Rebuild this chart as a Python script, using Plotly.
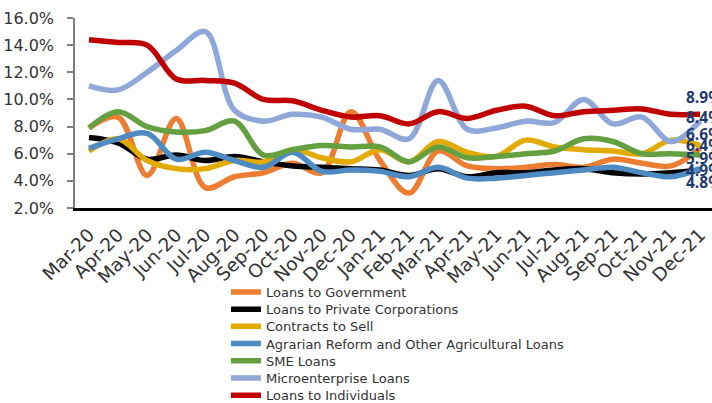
import plotly.graph_objects as go

months = ["Mar-20", "Apr-20", "May-20", "Jun-20", "Jul-20", "Aug-20", "Sep-20", "Oct-20",
          "Nov-20", "Dec-20", "Jan-21", "Feb-21", "Mar-21", "Apr-21", "May-21", "Jun-21",
          "Jul-21", "Aug-21", "Sep-21", "Oct-21", "Nov-21", "Dec-21"]

loans_government = [7.9, 8.7, 4.4, 8.6, 3.5, 4.3, 4.6, 5.3, 4.6, 9.1, 5.5, 3.1,
                    6.2, 5.1, 4.9, 5.0, 5.2, 5.0, 5.6, 5.3, 5.1, 6.4]
loans_private = [7.2, 6.8, 5.6, 5.9, 5.5, 5.8, 5.4, 5.1, 5.0, 4.9, 4.8, 4.4,
                 4.9, 4.3, 4.6, 4.6, 4.8, 4.9, 4.6, 4.5, 4.6, 4.8]
contracts_to_sell = [6.2, 7.1, 5.5, 4.9, 4.9, 5.5, 5.4, 6.3, 5.7, 5.4, 6.3, 5.4,
                     6.9, 6.1, 5.8, 7.0, 6.5, 6.3, 6.2, 6.0, 7.0, 6.6]
agrarian = [6.4, 7.1, 7.5, 5.6, 6.1, 5.5, 5.0, 6.1, 4.7, 4.8, 4.7, 4.3,
            5.0, 4.2, 4.2, 4.4, 4.6, 4.8, 5.0, 4.6, 4.3, 4.9]
sme = [7.9, 9.1, 8.0, 7.6, 7.7, 8.4, 5.9, 6.3, 6.6, 6.5, 6.5, 5.4,
       6.5, 5.7, 5.8, 6.0, 6.2, 7.1, 6.9, 6.0, 6.0, 5.9]
microenterprise = [11.0, 10.7, 12.0, 13.6, 15.0, 9.2, 8.4, 8.9, 8.7, 7.8, 7.8, 7.1,
                   11.4, 7.8, 7.9, 8.4, 8.3, 10.0, 8.2, 8.7, 6.9, 8.4]
individuals = [14.4, 14.2, 14.0, 11.5, 11.4, 11.2, 10.0, 9.9, 9.2, 8.7, 8.8, 8.2,
               9.1, 8.6, 9.2, 9.5, 8.8, 9.1, 9.2, 9.3, 8.9, 8.9]

series_names = ["Loans to Government", "Loans to Private Corporations", "Contracts to Sell",
                "Agrarian Reform and Other Agricultural Loans", "SME Loans",
                "Microenterprise Loans", "Loans to Individuals"]
series_values = [loans_government, loans_private, contracts_to_sell, agrarian, sme,
                 microenterprise, individuals]
series_colors = ["#ED7D31", "#000000", "#E3AA00", "#4F8BC3", "#64A040", "#8FA7D9", "#C00000"]
# vertical nudge (px) of each end label so the stacked labels stay readable
label_shift = [3, -12, 12, -1, -3, 4, 17]

FONT = "DejaVu Sans"
LABEL_FONT = "Open Sans"

# plot area geometry (px) used to place the legend rows below the axis
PLOT_TOP, PLOT_BOTTOM = 18, 208
LEGEND_FIRST_ROW, LEGEND_ROW_STEP = 292, 17.2

fig = go.Figure()
layout_legends = {}
for i, (name, vals, col) in enumerate(zip(series_names, series_values, series_colors)):
    key = "legend" if i == 0 else f"legend{i + 1}"
    fig.add_trace(go.Scatter(
        x=months, y=vals, name=name, mode="lines", legend=key,
        line=dict(color=col, width=5.5, shape="spline", smoothing=1.0),
    ))
    row_px = LEGEND_FIRST_ROW + LEGEND_ROW_STEP * i
    layout_legends[key] = dict(
        x=0.237, y=(PLOT_BOTTOM - row_px) / (PLOT_BOTTOM - PLOT_TOP),
        xanchor="left", yanchor="middle",
        font=dict(family=FONT, size=13, color="#333333"),
        bgcolor="rgba(0,0,0,0)", borderwidth=0,
    )

for vals, shift in zip(series_values, label_shift):
    fig.add_annotation(
        x=months[-1], y=vals[-1], text=f"{vals[-1]:.1f}%", showarrow=False,
        xanchor="left", yanchor="middle", xshift=-16, yshift=shift,
        font=dict(family=LABEL_FONT, size=15.5, color="#1F3A6E", weight="bold"),
    )

fig.update_layout(
    width=712, height=403,
    margin=dict(l=75, r=0, t=PLOT_TOP, b=403 - PLOT_BOTTOM, autoexpand=False),
    paper_bgcolor="white", plot_bgcolor="white",
    font=dict(family=FONT, color="#333333"),
    showlegend=True,
    **layout_legends,
)

fig.update_xaxes(
    type="category", range=[-0.48, 21.41],
    showgrid=False, zeroline=False,
    showline=True, linecolor="#000000", linewidth=2.5,
    ticks="", tickangle=-45, ticklabelstandoff=6,
    tickfont=dict(family=FONT, size=18.5, color="#333333"),
)
fig.update_yaxes(
    range=[2, 16], tickvals=[2, 4, 6, 8, 10, 12, 14, 16],
    ticktext=[f"{v:.1f}%" for v in [2, 4, 6, 8, 10, 12, 14, 16]],
    showgrid=False, zeroline=False,
    showline=True, linecolor="#7F7F7F", linewidth=1.5,
    ticks="outside", ticklen=6, tickcolor="#7F7F7F", tickwidth=1.5,
    ticklabelstandoff=10,
    tickfont=dict(family=FONT, size=16, color="#333333"),
)

fig.write_html("out.html")
